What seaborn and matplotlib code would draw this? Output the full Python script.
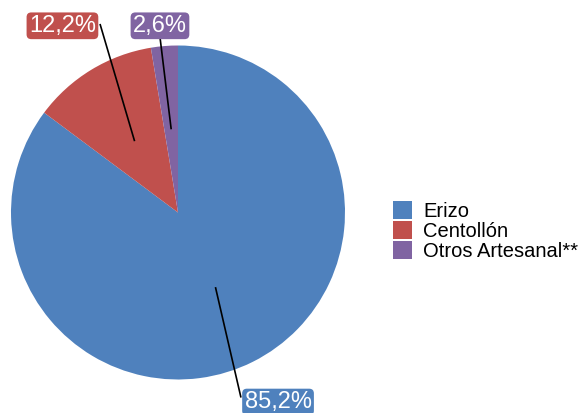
import numpy as np
import seaborn as sns
import matplotlib.pyplot as plt
import matplotlib as mpl

# data
categories = ["Erizo", "Centollón", "Otros Artesanal**"]
shares = [85.2, 12.2, 2.6]
share_labels = ["85,2%", "12,2%", "2,6%"]

sns.set_theme(style="white")
plt.rcParams["font.family"] = ["Liberation Sans", "DejaVu Sans"]
plt.rcParams["text.color"] = "black"

colors = sns.color_palette(["#4F81BD", "#C0504D", "#8064A2"])

W, H = 583, 413
fig = plt.figure(figsize=(W / 100, H / 100), dpi=100)
ax = fig.add_axes([0, 0, 1, 1])

# pie center / radius in pixels, used to set the axis limits
cx, cy, rad = 178, 212.5, 167

wedges, _ = ax.pie(
    shares,
    colors=colors,
    startangle=90,
    counterclock=False,
    radius=1,
    wedgeprops={"linewidth": 0},
)
ax.set_xlim(-cx / rad, (W - cx) / rad)
ax.set_ylim(-(H - cy) / rad, cy / rad)
ax.set_aspect("auto")
ax.axis("off")

# label boxes (text centre) and where the leader line meets them
label_pos = [(0.599, -1.135), (-0.692, 1.118), (-0.108, 1.118)]
line_end = [(0.377, -1.108), (-0.467, 1.129), (-0.108, 1.051)]

for w, lab, col, (tx, ty), (ex, ey) in zip(wedges, share_labels, colors, label_pos, line_end):
    mid = np.deg2rad((w.theta1 + w.theta2) / 2)
    sx, sy = 0.5 * np.cos(mid), 0.5 * np.sin(mid)
    ax.plot([sx, ex], [sy, ey], color="black", linewidth=1.2, zorder=5, solid_capstyle="butt")
    ax.text(
        tx, ty, lab,
        ha="center", va="center", color="white", fontsize=17, zorder=6,
        bbox=dict(boxstyle="round,pad=0.1,rounding_size=0.2", facecolor=col, edgecolor="none"),
    )

fig.legend(
    wedges, categories,
    loc="upper left",
    bbox_to_anchor=(393 / W, (H - 201) / H),
    frameon=False,
    fontsize=14.5,
    handlelength=0.95,
    handleheight=1.0,
    handletextpad=0.55,
    labelspacing=0.0,
    borderpad=0,
    borderaxespad=0,
)

fig.savefig("out.png", dpi=100)
